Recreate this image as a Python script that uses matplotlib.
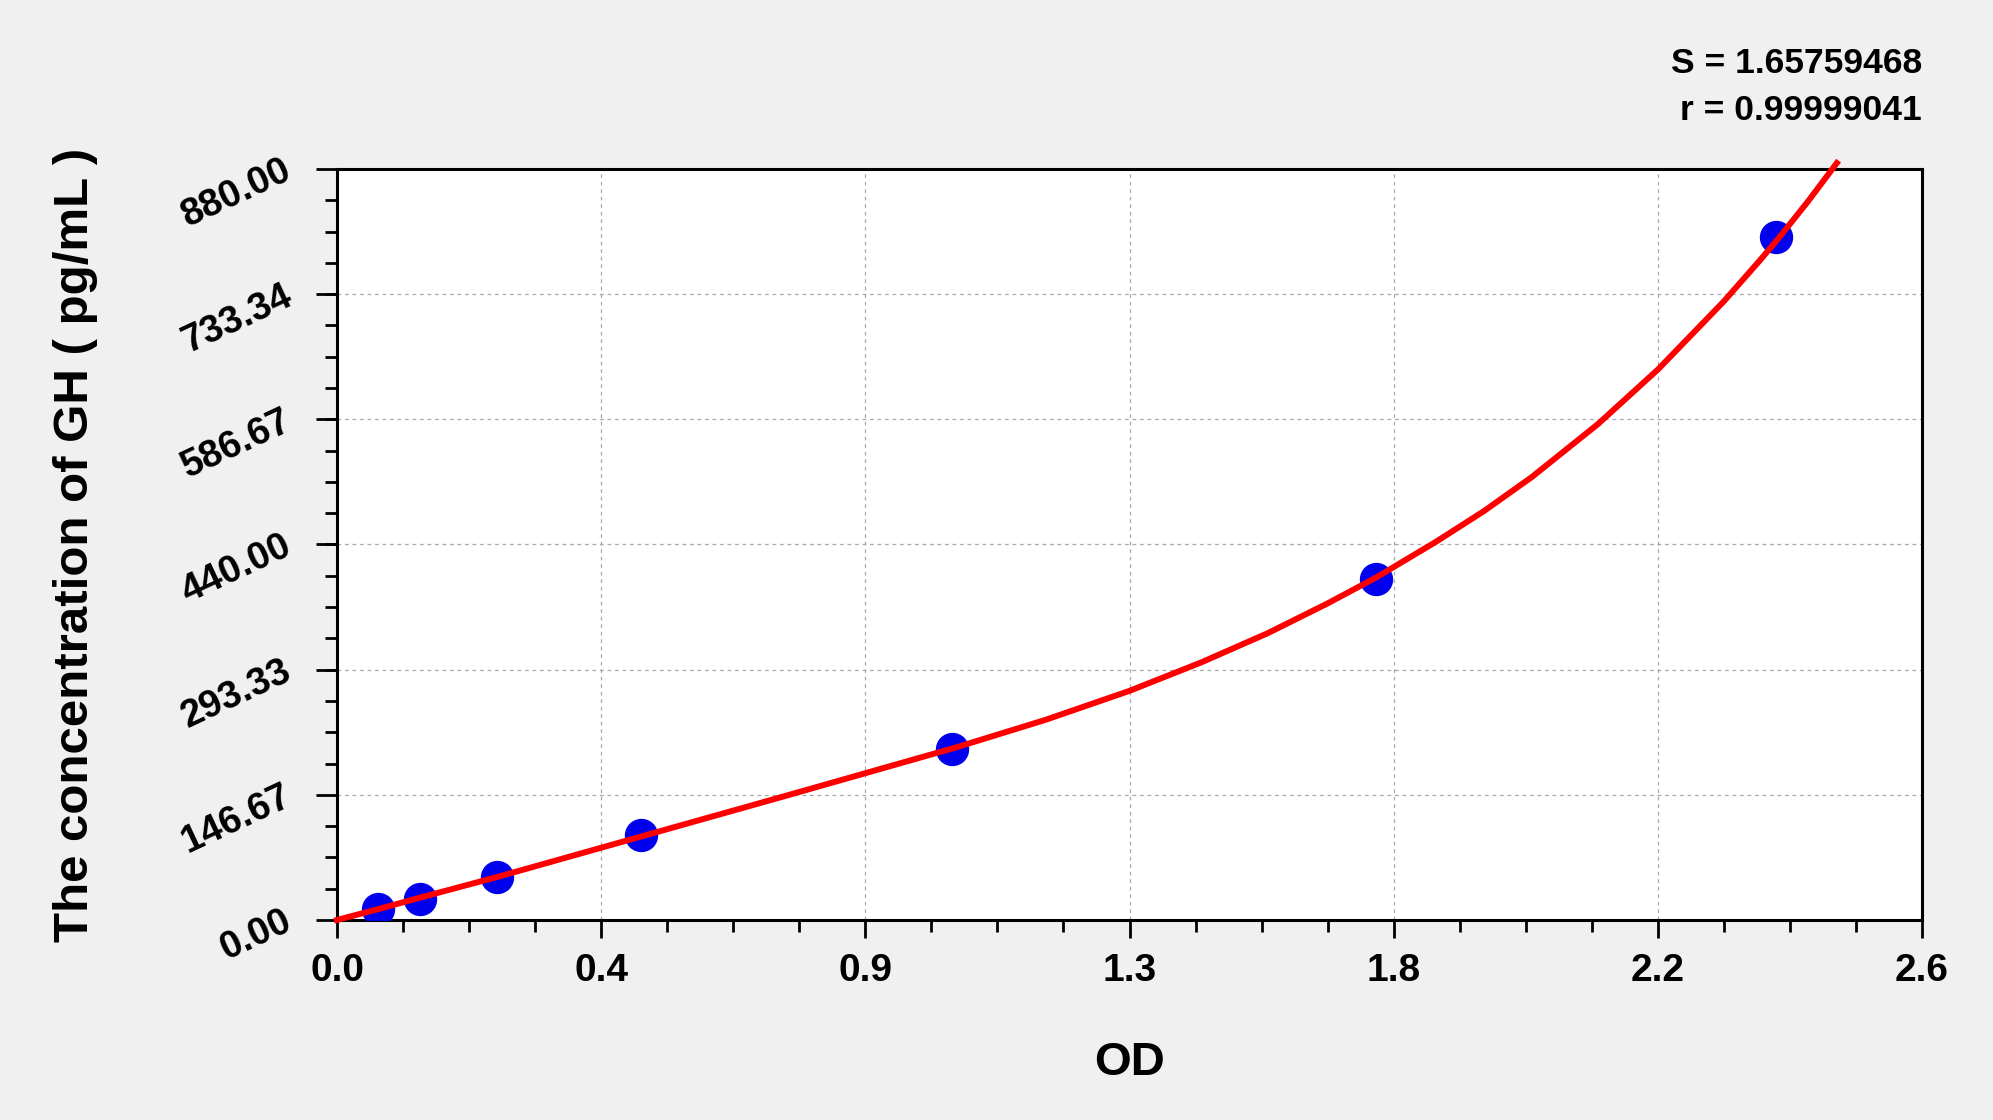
import numpy as np
import matplotlib
matplotlib.use('Agg')
import matplotlib.pyplot as plt
from matplotlib.ticker import AutoMinorLocator

plt.rcParams['font.family'] = ['Liberation Sans', 'DejaVu Sans']
plt.rcParams['font.weight'] = 'bold'

#Standards (OD vs concentration)
od = [0.068, 0.138, 0.267, 0.506, 1.025, 1.731, 2.397]
conc = [12.5, 25, 50, 100, 200, 400, 800]

#Fitted curve
curve_od = [0.0, 0.07, 0.14, 0.27, 0.51, 0.75, 1.03, 1.18, 1.32, 1.44, 1.55,
            1.65, 1.73, 1.83, 1.91, 1.99, 2.10, 2.20, 2.31, 2.37, 2.40, 2.45, 2.498]
curve_conc = [0, 13, 26.5, 51, 98.5, 146, 202, 234.5, 268.5, 302, 336,
              371, 401, 443, 479, 519, 581, 645, 725, 773, 798, 842, 887]

xticks = [0.0, 0.44, 0.88, 1.32, 1.76, 2.2, 2.64]
xticklabels = ['0.0', '0.4', '0.9', '1.3', '1.8', '2.2', '2.6']
yticks = [0, 146.67, 293.33, 440, 586.67, 733.34, 880]
yticklabels = ['0.00', '146.67', '293.33', '440.00', '586.67', '733.34', '880.00']

fig = plt.figure(figsize=(19.93, 11.2), dpi=100)
fig.patch.set_facecolor('#f0f0f0')
ax = fig.add_axes([0.1691, 0.1786, 0.7953, 0.6705])
ax.set_facecolor('white')

ax.plot(od, conc, 'o', color='#0000ee', markersize=23, zorder=3)
ax.plot(curve_od, curve_conc, '-', color='#ff0000', lw=4.3, zorder=4,
        clip_on=False, solid_joinstyle='round')

ax.set_xlim(0, 2.64)
ax.set_ylim(0, 880)
ax.set_xticks(xticks)
ax.set_xticklabels(xticklabels, fontsize=28, fontweight='bold')
ax.set_yticks(yticks)
ax.set_yticklabels(yticklabels, fontsize=27.5, fontweight='bold', rotation=25,
                   rotation_mode='anchor', ha='right', va='center')
ax.xaxis.set_minor_locator(AutoMinorLocator(4))
ax.yaxis.set_minor_locator(AutoMinorLocator(4))
ax.tick_params(axis='x', which='major', direction='out', length=13, width=2, pad=11)
ax.tick_params(axis='x', which='minor', direction='out', length=8.5, width=2)
ax.tick_params(axis='y', which='major', direction='out', length=15, width=2, pad=19)
ax.tick_params(axis='y', which='minor', direction='out', length=9, width=2)
for s in ax.spines.values():
 s.set_linewidth(2.2)
 s.set_color('black')

ax.grid(True, which='major', color='#a8a8a8', lw=0.9, linestyle=(0, (3, 3)))
ax.set_axisbelow(True)

ax.set_xlabel('OD', fontsize=34, fontweight='bold', va='center')
ax.xaxis.set_label_coords(0.5, -0.1904)
ax.set_ylabel('The concentration of GH ( pg/mL )', fontsize=35.5, fontweight='bold', va='center')
ax.yaxis.set_label_coords(-0.1647, 0.5)

fig.text(0.9644, 1 - 73/1120, 'S = 1.65759468', fontsize=25.5, fontweight='bold',
         ha='right', va='baseline')
fig.text(0.9644, 1 - 120/1120, 'r = 0.99999041', fontsize=25.5, fontweight='bold',
         ha='right', va='baseline')

fig.savefig('out.png', dpi=100, facecolor=fig.get_facecolor())
